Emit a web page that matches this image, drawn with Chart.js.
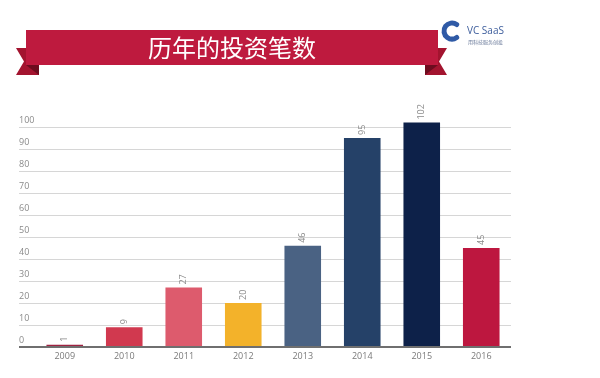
<!DOCTYPE html>
<html>
<head>
<meta charset="utf-8">
<script src="https://cdn.jsdelivr.net/npm/chart.js@4/dist/chart.umd.min.js"></script>
<style>
html,body{margin:0;padding:0;background:#fff;}
#wrap{position:relative;width:600px;height:378px;}
</style>
</head>
<body>
<div id="wrap"><canvas id="c" width="600" height="378"></canvas></div>
<script>
const title = "历年的投资笔数";
const years = ["2009","2010","2011","2012","2013","2014","2015","2016"];
const dealCounts = [1, 9, 27, 20, 46, 95, 102, 45];
const barColors = ["#a02342","#d1394f","#dd5b6d","#f3b22a","#4a6283","#254168","#0d2149","#bd173f"];
const yTicks = [0,10,20,30,40,50,60,70,80,90,100];
const logoText = "VC SaaS";
const logoSub = "用科技服务创投";

const headerPlugin = {
  id: 'header',
  beforeDraw(chart) {
    const ctx = chart.ctx;
    ctx.save();
    // ribbon tails
    const tail = "#a3142f", fold = "#6d0c1f", main = "#be1a3e";
    ctx.fillStyle = tail;
    ctx.beginPath();
    ctx.moveTo(16,48); ctx.lineTo(39,48); ctx.lineTo(39,75); ctx.lineTo(16,75); ctx.lineTo(24,61.5); ctx.closePath();
    ctx.fill();
    ctx.beginPath();
    ctx.moveTo(447,48); ctx.lineTo(425,48); ctx.lineTo(425,75); ctx.lineTo(447,75); ctx.lineTo(439,61.5); ctx.closePath();
    ctx.fill();
    ctx.fillStyle = fold;
    ctx.beginPath(); ctx.moveTo(26,65); ctx.lineTo(39,65); ctx.lineTo(39,75); ctx.closePath(); ctx.fill();
    ctx.beginPath(); ctx.moveTo(438,65); ctx.lineTo(425,65); ctx.lineTo(425,75); ctx.closePath(); ctx.fill();
    // main band
    ctx.fillStyle = main;
    ctx.fillRect(26,30,412,35);
    // title
    ctx.fillStyle = "#ffffff";
    ctx.font = '24px "Noto Sans CJK SC", sans-serif';
    ctx.textAlign = 'center';
    ctx.textBaseline = 'middle';
    ctx.fillText(title, 232, 48);
    // logo
    ctx.strokeStyle = "#2f5aa6";
    ctx.lineWidth = 5;
    ctx.lineCap = 'round';
    ctx.beginPath();
    ctx.arc(452, 31, 8, -Math.PI*0.3, Math.PI*0.3, true);
    ctx.stroke();
    ctx.fillStyle = "#3d5d9c";
    ctx.font = '10px "Open Sans", sans-serif';
    ctx.textAlign = 'left';
    ctx.textBaseline = 'middle';
    ctx.fillText(logoText, 467, 31);
    ctx.font = '5px "Noto Sans CJK SC", sans-serif';
    ctx.fillStyle = "#6a7a9a";
    ctx.fillText(logoSub, 468, 42);
    ctx.restore();
  }
};

const valueLabels = {
  id: 'valueLabels',
  afterDatasetsDraw(chart) {
    const ctx = chart.ctx;
    const meta = chart.getDatasetMeta(0);
    ctx.save();
    ctx.fillStyle = "#8a8a8a";
    ctx.font = '9px "Open Sans", sans-serif';
    ctx.textAlign = 'left';
    ctx.textBaseline = 'middle';
    meta.data.forEach((bar, i) => {
      ctx.save();
      ctx.translate(bar.x, bar.y - 3);
      ctx.rotate(-Math.PI/2);
      ctx.fillText(String(dealCounts[i]), 0, 0);
      ctx.restore();
    });
    ctx.restore();
  }
};

new Chart(document.getElementById('c'), {
  type: 'bar',
  data: {
    labels: years,
    datasets: [{
      data: dealCounts,
      backgroundColor: barColors,
      borderWidth: 0,
      categoryPercentage: 1,
      barPercentage: 0.615,
      clip: false
    }]
  },
  options: {
    responsive: false,
    animation: false,
    layout: { padding: { top: 127, left: 19, right: 89, bottom: 0 } },
    plugins: { legend: { display: false }, tooltip: { enabled: false }, title: { display: false } },
    scales: {
      x: {
        grid: { display: false, drawTicks: false },
        border: { display: false },
        ticks: { color: "#7a7a7a", font: { family: "Open Sans", size: 9 }, padding: 4, maxRotation: 0 },
        afterFit(scale) { scale.height = 31; }
      },
      y: {
        min: 0, max: 100,
        afterBuildTicks(scale) { scale.ticks = yTicks.map(v => ({ value: v })); },
        grid: {
          drawTicks: true,
          tickLength: 16,
          color: ctx => ctx.tick && ctx.tick.value === 0 ? "#6f6f6f" : "#d6d6d6",
          lineWidth: ctx => ctx.tick && ctx.tick.value === 0 ? 2 : 1
        },
        border: { display: false },
        ticks: {
          color: "#8a8a8a",
          font: { family: "Open Sans", size: 9 },
          crossAlign: 'far',
          labelOffset: -7,
          padding: 0
        },
        afterFit(scale) { scale.width = 16; }
      }
    }
  },
  plugins: [headerPlugin, valueLabels]
});
</script>
</body>
</html>
